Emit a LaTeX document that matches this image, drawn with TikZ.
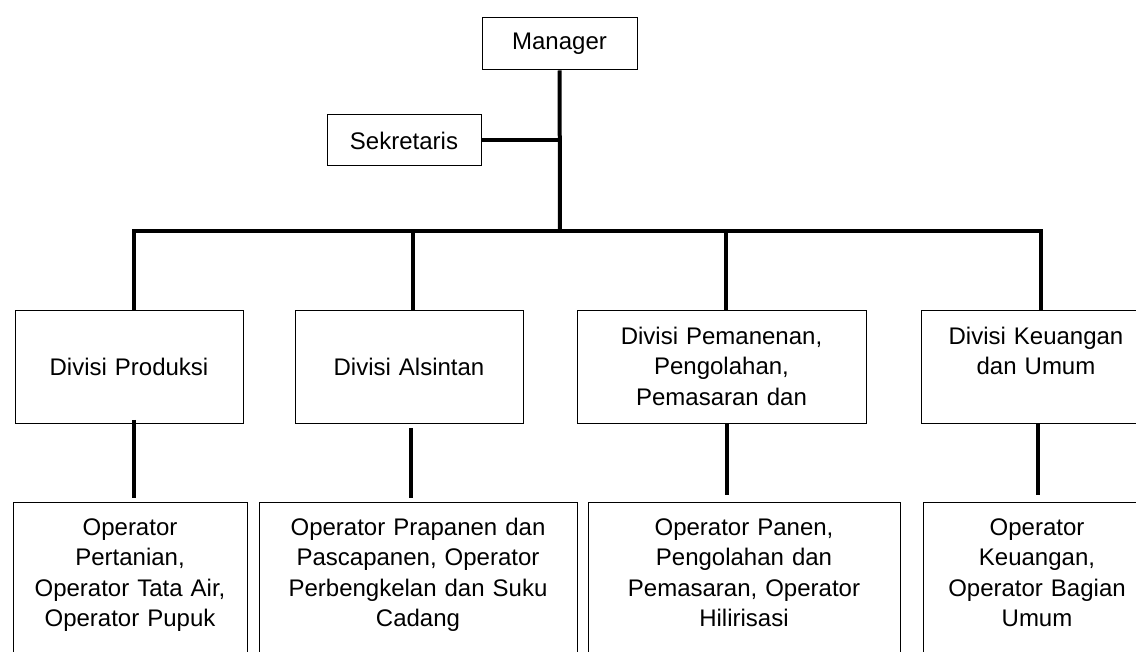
\documentclass[tikz,border=0pt]{standalone}
\usepackage{fontspec}
\setmainfont{Liberation Sans}
\tikzset{
  box/.style={draw, line width=1pt, inner sep=0pt},
  unitbox/.style={box, anchor=north, align=center},
  opbox/.style={unitbox, text height=32.6pt, text depth=200pt},
  link/.style={line width=4pt},
}
\begin{document}
\begin{tikzpicture}[x=1pt,y=-1pt,font=\fontsize{24}{30.5}\selectfont]
  \useasboundingbox (0,0) rectangle (1136,652);
  \clip (0,0) rectangle (1136,652);
  \node[box, minimum width=155pt, minimum height=52pt] (manager) at (559.5,44) {Manager};
  \node[box, minimum width=154pt, minimum height=51pt] (sekretaris) at (404,140.5) {Sekretaris};
  \coordinate (bus) at (560,231);
  \node[unitbox, text width=228pt, text height=65.5pt, text depth=47.5pt] (produksi) at (129,310) {Divisi Produksi};
  \node[unitbox, text width=228pt, text height=65.5pt, text depth=47.5pt] (alsintan) at (409,310) {Divisi Alsintan};
  \node[unitbox, text width=289pt, text height=33.6pt, text depth=79.4pt] (pemanenan) at (721.5,310) {Divisi Pemanenan,\\Pengolahan,\\Pemasaran dan};
  \node[unitbox, text width=230pt, text height=33.6pt, text depth=79.4pt] (keuangan) at (1036,310) {Divisi Keuangan\\dan Umum};
  \node[opbox, text width=234pt] (opproduksi) at (130,502) {Operator\\Pertanian,\\Operator Tata Air,\\Operator Pupuk};
  \node[opbox, text width=318pt] (opalsintan) at (418,502) {Operator Prapanen dan\\Pascapanen, Operator\\Perbengkelan dan Suku\\Cadang};
  \node[opbox, text width=312pt] (oppemanenan) at (744,502) {Operator Panen,\\Pengolahan dan\\Pemasaran, Operator\\Hilirisasi};
  \node[opbox, text width=228pt] (opkeuangan) at (1037,502) {Operator\\Keuangan,\\Operator Bagian\\Umum};
  \begin{scope}[link]
    \draw (manager) -- (bus);
    \draw (sekretaris.east) -- (sekretaris.east -| bus);
    \draw ([xshift=5pt]produksi.north) |- (bus) -| ([xshift=5pt]keuangan.north);
    \draw ([xshift=4pt]alsintan.north) |- (bus);
    \draw ([xshift=4.5pt]pemanenan.north) |- (bus);
    \draw ([xshift=5pt,yshift=4pt]produksi.south) -- ([xshift=4pt,yshift=4pt]opproduksi.north);
    \draw ([xshift=2pt,yshift=-4pt]alsintan.south) -- ([xshift=-7pt,yshift=4pt]opalsintan.north);
    \draw ([xshift=5.5pt]pemanenan.south) -- ([xshift=-17pt,yshift=7pt]oppemanenan.north);
    \draw ([xshift=2pt]keuangan.south) -- ([xshift=1pt,yshift=7pt]opkeuangan.north);
  \end{scope}
\end{tikzpicture}
\end{document}
